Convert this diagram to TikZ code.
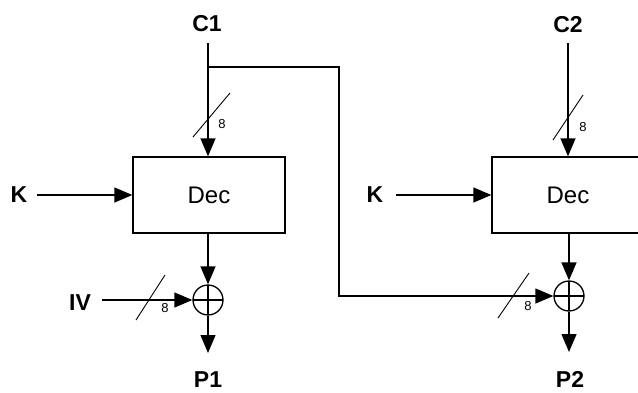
\documentclass[tikz,border=0pt]{standalone}
\usepackage{fontspec}
\setmainfont{Liberation Sans}
\usetikzlibrary{arrows.meta}
\begin{document}
\begin{tikzpicture}[x=1pt,y=-1pt,
  wire/.style={line width=1.3pt},
  arr/.style={wire,-{Triangle[length=18pt,width=15pt]}},
  lbl/.style={font=\fontsize{23}{26}\selectfont\bfseries,inner sep=0pt},
  decbox/.style={draw,line width=1.3pt,minimum width=152pt,minimum height=76pt,inner sep=0pt,font=\fontsize{24}{28}\selectfont},
  xorop/.style={draw,circle,line width=1.3pt,minimum size=30pt,inner sep=0pt,
     path picture={\draw[line width=1.3pt] (path picture bounding box.north) -- (path picture bounding box.south)
        (path picture bounding box.west) -- (path picture bounding box.east);}},
  busslash/.style={line width=0.9pt},
  bw/.style={font=\fontsize{13}{15}\selectfont,inner sep=0pt}
]
\useasboundingbox (0,0) rectangle (638,392);
\clip (0,0) rectangle (638,392);
\fill[white] (0,0) rectangle (638,392);

% left column
\node[lbl] (c1) at (207,24) {C1};
\coordinate (c1s) at (208,43);
\coordinate (br) at (208,67);
\node[decbox] (d1) at (209,195) {Dec};
\node[lbl] (k1) at (19,195) {K};
\coordinate (k1s) at (37,195);
\node[xorop] (x1) at (208,300) {};
\node[lbl] (iv) at (80,303) {IV};
\coordinate (ivs) at (102,300);
\node[lbl] (p1) at (208,380) {P1};
\coordinate (p1e) at (208,353);

\draw[arr] (c1s) -- (d1.north -| c1s);
\draw[arr] (k1s) -- (d1.west |- k1s);
\draw[arr] (d1.south -| x1) -- (x1.north);
\draw[arr] (ivs) -- (x1.west);
\draw[arr] (x1.south) -- (p1e);

\draw[busslash] (193,137) -- (230,93);
\node[bw] (b1) at (222,124) {8};
\draw[busslash] (136,320) -- (165,275);
\node[bw] (b2) at (165,308) {8};

% right column
\node[lbl] (c2) at (568,25) {C2};
\coordinate (c2s) at (568,43);
\node[decbox] (d2) at (568,195) {Dec};
\node[lbl] (k2) at (375,195) {K};
\coordinate (k2s) at (396,195);
\node[xorop] (x2) at (569,296) {};
\node[lbl] (p2) at (570,379) {P2};
\coordinate (p2e) at (569,352);

\draw[arr] (c2s) -- (d2.north -| c2s);
\draw[arr] (k2s) -- (d2.west |- k2s);
\draw[arr] (d2.south -| x2) -- (x2.north);
\draw[arr] (x2.south) -- (p2e);

% feed-forward of C1
\coordinate (corner) at (339,67);
\draw[arr] (br) -- (corner) |- (x2.west);

\draw[busslash] (553,140) -- (583,95);
\node[bw] (b3) at (583,127) {8};
\draw[busslash] (498,318) -- (529,273);
\node[bw] (b4) at (528,306) {8};
\end{tikzpicture}
\end{document}
